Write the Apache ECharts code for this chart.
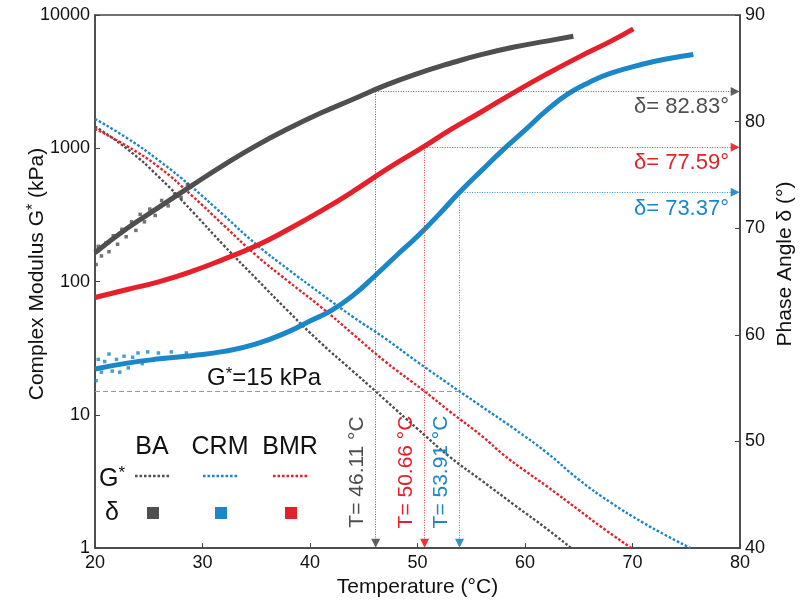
<!DOCTYPE html>
<html>
<head>
<meta charset="utf-8">
<script src="https://cdn.jsdelivr.net/npm/echarts@6/dist/echarts.min.js"></script>
<style>html,body{margin:0;padding:0;background:#fff}#c{width:800px;height:603px}</style>
</head>
<body>
<div id="c"></div>
<script>
// ---- data ----
const xTicks = [20, 30, 40, 50, 60, 70, 80];
const gTicks = [1, 10, 100, 1000, 10000];
const dTicks = [40, 50, 60, 70, 80, 90];
const materials = ['BA', 'CRM', 'BMR'];

// Complex modulus G* (kPa) vs temperature
const baG = [[20,1459],[23,988],[26,603],[29,339],[32,186],[35,105],[38,59.6],[41,34.7],[44,21.2],[46.11,15],[47,12.9],[50,7.85],[53,4.84],[56,3.2],[59,2.11],[62,1.40],[64.3,1.0]];
const crmG = [[20,1660],[23,1189],[26,803],[29,513],[32,313],[35,190],[38,123],[41,81.3],[44,54.3],[47,37.4],[50,24.9],[53.91,15],[56,11.5],[59,7.85],[62,5.22],[65,3.27],[68,2.19],[71,1.55],[73,1.26],[75.4,1.0]];
const bmrG = [[20,1400],[23,1035],[26,716],[29,442],[32,263],[35,157],[38,100],[41,64.6],[44,40.3],[47,25.1],[50.66,15],[53,10.6],[56,6.92],[58,5.01],[60,3.80],[62,2.92],[65,1.93],[67,1.46],[69.9,1.0]];

// Phase angle delta (deg) vs temperature
const baD = [[20,67.7],[23,70.0],[26,72.0],[29,74.0],[32,75.95],[35,77.75],[38,79.35],[41,80.8],[44,82.1],[47,83.4],[50,84.5],[53,85.45],[56,86.3],[59,87.0],[62,87.55],[64.5,88.0]];
const crmD = [[20,56.8],[23,57.35],[26,57.75],[29,58.05],[32,58.45],[35,59.15],[38,60.3],[40,61.3],[42,62.3],[44,63.7],[46,65.5],[48,67.4],[50,69.25],[52,71.3],[53.91,73.37],[56,75.45],[58,77.4],[60,79.2],[62,81.05],[64,82.6],[66,83.7],[68,84.55],[71,85.4],[73,85.85],[75.66,86.3]];
const bmrD = [[20,63.5],[23,64.25],[26,65.0],[29,65.95],[32,67.1],[35,68.35],[38,69.9],[41,71.6],[44,73.45],[47,75.45],[50.66,77.7],[53,79.2],[56,80.95],[59,82.75],[62,84.45],[65,86.05],[68,87.55],[70.08,88.7]];

// scattered low-temperature readings of delta
const baNoise = [[20.1,66.6],[20.3,68.3],[20.6,67.4],[21.0,68.6],[21.3,67.8],[21.7,69.3],[22.1,68.5],[22.5,69.9],[22.9,69.2],[23.4,70.6],[23.8,69.8],[24.2,71.3],[24.6,70.6],[25.1,71.8],[25.6,71.2],[26.2,72.6],[26.8,72.1],[27.4,73.2],[28.0,72.9],[28.6,74.1]];
const crmNoise = [[20.1,55.7],[20.3,57.7],[20.6,56.5],[20.9,57.5],[21.3,58.2],[21.6,56.6],[22.0,57.7],[22.3,56.5],[22.7,58.0],[23.1,56.9],[23.5,57.9],[24.0,58.3],[24.4,57.3],[24.9,58.4],[25.4,57.6],[25.9,58.3],[26.5,57.8],[27.1,58.4],[27.8,57.9],[28.5,58.3]];

// criterion and results
const gCrit = 15;
const critT = [46.11, 53.91, 50.66];   // BA, CRM, BMR
const critD = [82.83, 73.37, 77.59];   // BA, CRM, BMR

// ---- styles ----
const FONT = "'Liberation Sans', Arial, sans-serif";
const COLORS = ['#4f4f4f', '#1b86c8', '#e5202a'];
const AXIS = '#444';

const chart = echarts.init(document.getElementById('c'));

function gLine(name, data, color, extra) {
  return Object.assign({
    name, type: 'line', xAxisIndex: 0, yAxisIndex: 0, data,
    showSymbol: false, smooth: 0.5, z: 3,
    lineStyle: { color, width: 2.4, type: [2.6, 1.9] }
  }, extra || {});
}
function critMark(i) {
  const c = COLORS[i];
  return {
    silent: true, symbol: ['none', 'triangle'], symbolSize: [9, 9],
    label: { show: false },
    lineStyle: { color: c, width: 1, type: [1, 1.5], opacity: 0.9 },
    data: [
      [{ coord: [critT[i], critD[i]] }, { coord: [79.55, critD[i]] }],
      [{ coord: [critT[i], critD[i]] }, { coord: [critT[i], 40.45] }]
    ]
  };
}
function dLine(name, data, i) {
  return {
    name, type: 'line', xAxisIndex: 0, yAxisIndex: 1, data,
    showSymbol: false, smooth: 0.5, z: 4,
    lineStyle: { color: COLORS[i], width: 5 },
    markLine: critMark(i)
  };
}
function noise(data, i) {
  return {
    type: 'scatter', xAxisIndex: 0, yAxisIndex: 1, data,
    symbol: 'rect', symbolSize: 3.5, z: 4, silent: true,
    itemStyle: { color: COLORS[i] }
  };
}

const option = {
  animation: false,
  textStyle: { fontFamily: FONT },
  grid: { left: 95, right: 60, top: 15, bottom: 53, show: true, borderColor: AXIS, borderWidth: 1.5, backgroundColor: 'transparent' },
  xAxis: {
    type: 'value', min: xTicks[0], max: xTicks[xTicks.length - 1], interval: 10,
    axisLine: { lineStyle: { color: AXIS, width: 1.5 } },
    axisTick: { inside: true, length: 5, lineStyle: { color: AXIS } },
    axisLabel: { fontSize: 18, color: '#111', margin: 6, fontFamily: FONT, showMaxLabel: true, showMinLabel: true },
    splitLine: { show: false },
    name: 'Temperature (°C)', nameLocation: 'middle', nameGap: 26,
    nameTextStyle: { fontSize: 21, color: '#111', fontFamily: FONT }
  },
  yAxis: [
    {
      type: 'log', logBase: 10, min: gTicks[0], max: gTicks[gTicks.length - 1], position: 'left',
      axisLine: { show: true, lineStyle: { color: AXIS, width: 1.5 } },
      axisTick: { inside: true, length: 5, lineStyle: { color: AXIS } },
      minorTick: { show: false },
      axisLabel: { fontSize: 18, color: '#111', margin: 5, fontFamily: FONT, formatter: (v) => String(Math.round(v)) },
      splitLine: { show: false }
    },
    {
      type: 'value', min: dTicks[0], max: dTicks[dTicks.length - 1], interval: 10, position: 'right',
      axisLine: { show: true, lineStyle: { color: AXIS, width: 1.5 } },
      axisTick: { inside: true, length: 5, lineStyle: { color: AXIS } },
      axisLabel: { fontSize: 18, color: '#111', margin: 5, fontFamily: FONT },
      splitLine: { show: false }
    }
  ],
  series: [
    gLine('BA G*', baG, COLORS[0], {
      markLine: {
        silent: true, symbol: ['none', 'none'], label: { show: false },
        lineStyle: { color: '#9a9a9a', width: 1, type: [5, 3] },
        data: [[{ coord: [xTicks[0], gCrit] }, { coord: [critT[1], gCrit] }]]
      }
    }),
    gLine('CRM G*', crmG, COLORS[1]),
    gLine('BMR G*', bmrG, COLORS[2]),
    dLine('BA δ', baD, 0),
    dLine('CRM δ', crmD, 1),
    dLine('BMR δ', bmrD, 2),
    noise(baNoise, 0),
    noise(crmNoise, 1)
  ]
};
chart.setOption(option);

// ---- annotations (positions derived from data via the axes) ----
const g = [];
const toPx = (p) => chart.convertToPixel({ xAxisIndex: 0, yAxisIndex: 1 }, p);
const dOffsets = [15, 17, 16];
for (let i = 0; i < 3; i++) {
  const vx = toPx([critT[i], 40])[0];
  g.push({
    type: 'text', x: vx - 18, y: 472, rotation: Math.PI / 2, z: 10,
    style: { text: 'T= ' + critT[i].toFixed(2) + ' °C', fontSize: 21, fontFamily: FONT, fill: COLORS[i], align: 'center', verticalAlign: 'middle' }
  });
  const hy = toPx([80, critD[i]])[1];
  g.push({
    type: 'text', x: 729, y: hy + dOffsets[i], z: 10,
    style: { text: 'δ= ' + critD[i].toFixed(2) + '°', fontSize: 22, fontFamily: FONT, fill: COLORS[i], align: 'right', verticalAlign: 'middle' }
  });
}
// criterion label
const cy = chart.convertToPixel({ xAxisIndex: 0, yAxisIndex: 0 }, [30, gCrit])[1];
g.push({
  type: 'text', x: 264, y: cy - 13, z: 10,
  style: {
    text: '{a|G}{s|*}{a|=' + gCrit + ' kPa}', align: 'center', verticalAlign: 'middle',
    rich: { a: { fontSize: 24, fontFamily: FONT, fill: '#111' }, s: { fontSize: 17, fontFamily: FONT, fill: '#111', padding: [0, 0, 8, 0] } }
  }
});
// axis titles
g.push({
  type: 'text', x: 37, y: 274, rotation: Math.PI / 2,
  style: {
    text: '{a|Complex Modulus G}{s|*}{a| (kPa)}', align: 'center', verticalAlign: 'middle',
    rich: { a: { fontSize: 21, fontFamily: FONT, fill: '#111' }, s: { fontSize: 16, fontFamily: FONT, fill: '#111', padding: [0, 0, 6, 0] } }
  }
});
g.push({
  type: 'text', x: 785, y: 264, rotation: Math.PI / 2,
  style: { text: 'Phase Angle δ (°)', fontSize: 21, fontFamily: FONT, fill: '#111', align: 'center', verticalAlign: 'middle' }
});
// legend table
const colX = [152, 220, 290];
for (let i = 0; i < 3; i++) {
  g.push({ type: 'text', x: colX[i], y: 447, style: { text: materials[i], fontSize: 25, fontFamily: FONT, fill: '#111', align: 'center', verticalAlign: 'middle' } });
  g.push({ type: 'line', shape: { x1: colX[i] - 17, y1: 476, x2: colX[i] + 18, y2: 476 }, style: { stroke: COLORS[i], lineWidth: 2.4, lineDash: [2.6, 1.9] } });
  g.push({ type: 'rect', shape: { x: colX[i] - 5, y: 507, width: 12, height: 12 }, style: { fill: COLORS[i] } });
}
g.push({
  type: 'text', x: 112, y: 479,
  style: {
    text: '{a|G}{s|*}', align: 'center', verticalAlign: 'middle',
    rich: { a: { fontSize: 25, fontFamily: FONT, fill: '#111' }, s: { fontSize: 17, fontFamily: FONT, fill: '#111', padding: [0, 0, 12, 0] } }
  }
});
g.push({ type: 'text', x: 112, y: 513, style: { text: 'δ', fontSize: 25, fontFamily: FONT, fill: '#111', align: 'center', verticalAlign: 'middle' } });

chart.setOption({ graphic: g });
</script>
</body>
</html>
